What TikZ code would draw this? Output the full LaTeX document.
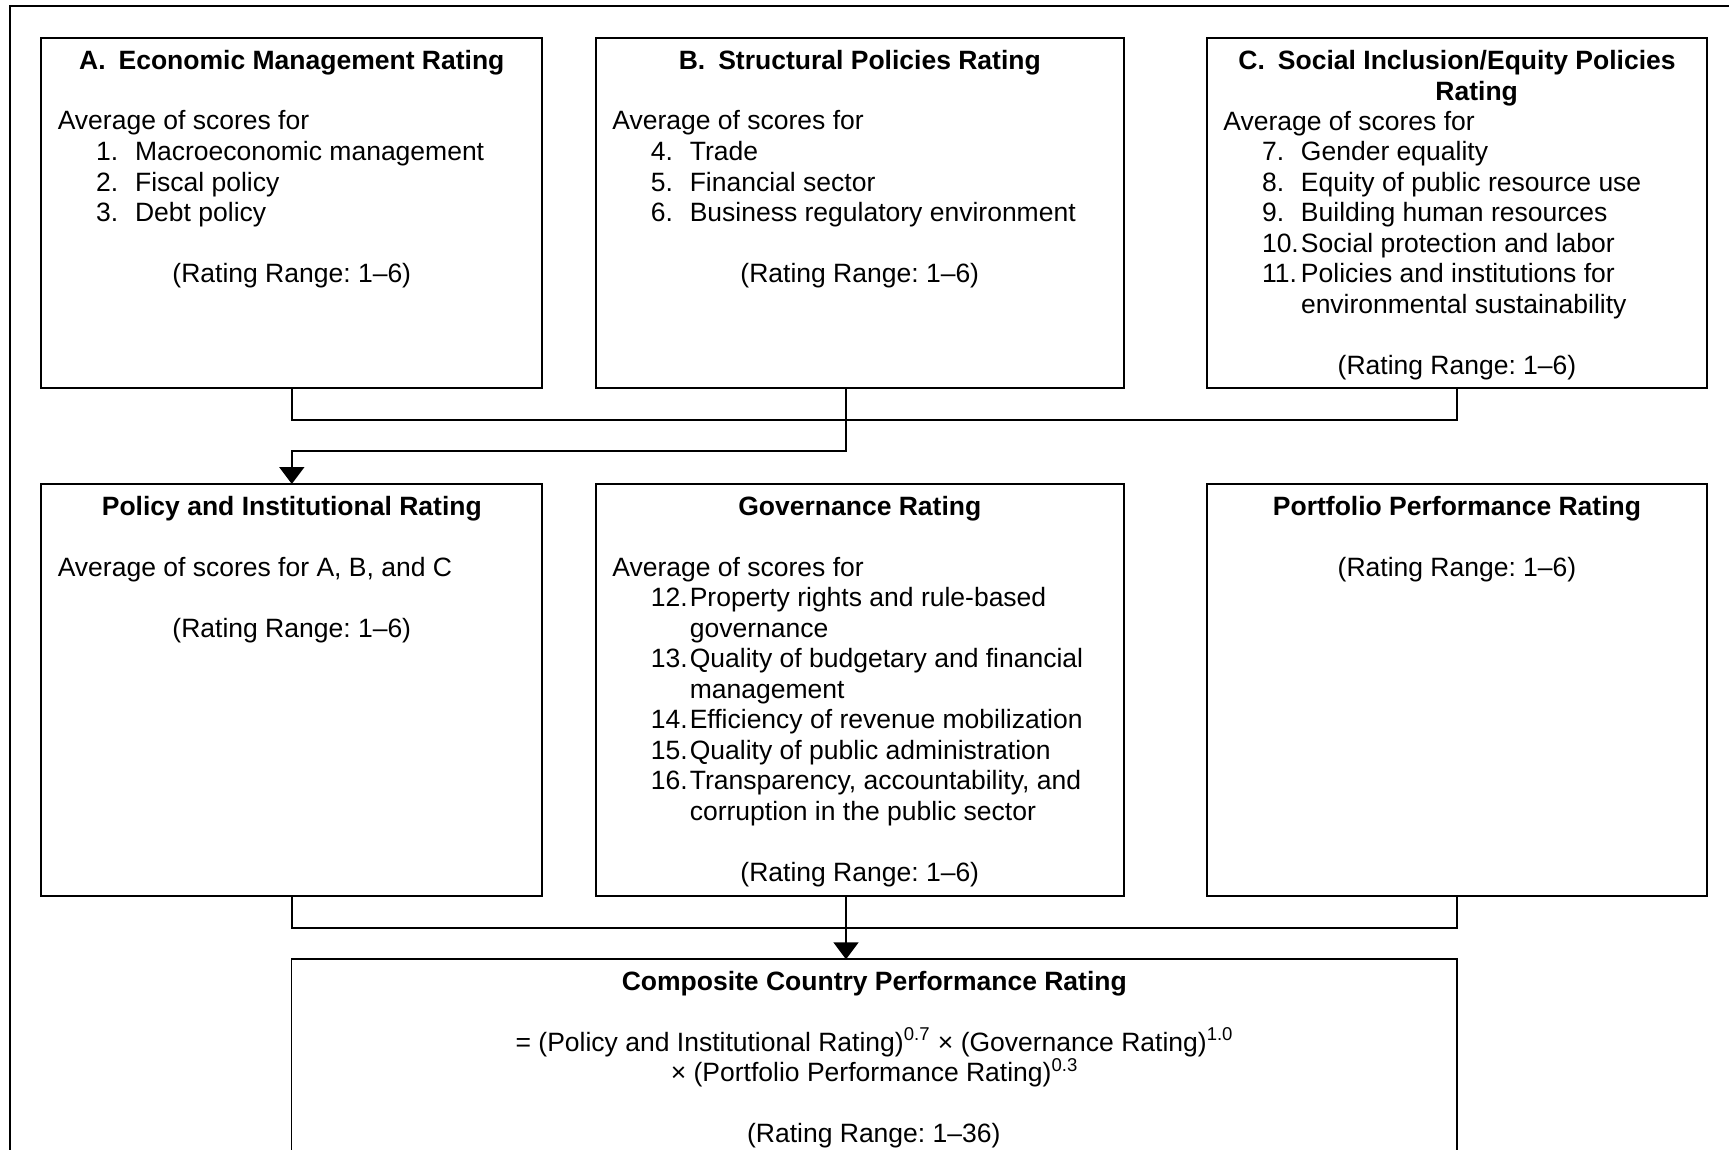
\documentclass[tikz,border=0pt]{standalone}
\usepackage{fontspec}
\setmainfont{Liberation Sans}
\usetikzlibrary{arrows.meta}
\frenchspacing
\newcommand\myfs{\fontsize{13.25pt}{15.25pt}\selectfont\frenchspacing}
\newcommand\itm[2]{\makebox[19.5pt][l]{#1}#2}
\begin{document}
\begin{tikzpicture}[x=0.5pt,y=-0.5pt,
  box/.style={draw, line width=0.9pt, inner sep=0pt, outer sep=0pt, rectangle},
  ln/.style={line width=0.9pt},
  arr/.style={ln, -{Triangle[length=8.5pt,width=12.5pt]}},
  tl/.style={inner sep=0pt, anchor=base west, font=\myfs},
  tc/.style={inner sep=0pt, anchor=base, font=\myfs},
  tb/.style={inner sep=0pt, anchor=base, font=\myfs\bfseries}]
\useasboundingbox (0,0) rectangle (1729,1150);
\clip (0,0) rectangle (1729,1150);
\fill[white] (0,0) rectangle (1729,1150);
% outer frame
\draw[ln] (9.7,6) rectangle (1800,1300);
% boxes
\node[box, minimum width=250.5pt, minimum height=175pt] (A) at (291.8,212.7) {};
\node[box, minimum width=263.8pt, minimum height=175pt] (B) at (859.8,212.7) {};
\node[box, minimum width=249.85pt, minimum height=175pt] (C) at (1457.05,212.7) {};
\node[box, minimum width=250.5pt, minimum height=206pt] (P) at (291.8,690) {};
\node[box, minimum width=263.8pt, minimum height=206pt] (G) at (859.8,690) {};
\node[box, minimum width=249.85pt, minimum height=206pt] (F) at (1457.05,690) {};
\node[box, minimum width=582.75pt, minimum height=150.35pt] (K) at (874.25,1109.65) {};
% connectors
\coordinate (xB) at (846,0);
\coordinate (j1) at (1457.05,420);
\draw[ln] (A.south) |- (j1) -- (C.south);
\coordinate (bB) at (B.south -| xB);
\coordinate (j3) at (846,451);
\draw[arr] (bB) -- (j3) -| (P.north);
\coordinate (j4) at (1457.05,927.7);
\draw[ln] (P.south) |- (j4) -- (F.south);
\coordinate (bG) at (G.south -| xB);
\coordinate (tK) at (K.north -| xB);
\draw[arr] (bG) -- (tK);
% Box A text
\node[tb] (a0) at (291.8,70) {A.\hspace{6.5pt}Economic Management Rating};
\node[tl] (a1) at (57.4,130) {Average of scores for};
\node[tl] (a2) at (95.7,161) {\itm{1.}{Macroeconomic management}};
\node[tl] (a3) at (95.7,191.5) {\itm{2.}{Fiscal policy}};
\node[tl] (a4) at (95.7,222) {\itm{3.}{Debt policy}};
\node[tc] (a5) at (291.8,283) {(Rating Range: 1–6)};
% Box B text
\node[tb] (b0) at (859.8,70) {B.\hspace{6.5pt}Structural Policies Rating};
\node[tl] (b1) at (612,130) {Average of scores for};
\node[tl] (b2) at (650.4,161) {\itm{4.}{Trade}};
\node[tl] (b3) at (650.4,191.5) {\itm{5.}{Financial sector}};
\node[tl] (b4) at (650.4,222) {\itm{6.}{Business regulatory environment}};
\node[tc] (b5) at (859.8,283) {(Rating Range: 1–6)};
% Box C text
\node[tb] (c0) at (1457,70) {C.\hspace{6.5pt}Social Inclusion/Equity Policies};
\node[tb] (c0b) at (1476.7,100.5) {Rating};
\node[tl] (c1) at (1223,130.5) {Average of scores for};
\node[tl] (c2) at (1261.6,161) {\itm{7.}{Gender equality}};
\node[tl] (c3) at (1261.6,191.5) {\itm{8.}{Equity of public resource use}};
\node[tl] (c4) at (1261.6,222) {\itm{9.}{Building human resources}};
\node[tl] (c5) at (1261.6,252.5) {\itm{10.}{Social protection and labor}};
\node[tl] (c6) at (1261.6,283) {\itm{11.}{Policies and institutions for}};
\node[tl] (c7) at (1300.6,313.5) {environmental sustainability};
\node[tc] (c8) at (1457,374.5) {(Rating Range: 1–6)};
% Policy box text
\node[tb] (p0) at (291.8,515) {Policy and Institutional Rating};
\node[tl] (p1) at (57.4,576) {Average of scores for A, B, and C};
\node[tc] (p2) at (291.8,637) {(Rating Range: 1–6)};
% Governance box text
\node[tb] (g0) at (859.8,515) {Governance Rating};
\node[tl] (g1) at (612,576) {Average of scores for};
\node[tl] (g2) at (650.4,606.5) {\itm{12.}{Property rights and rule-based}};
\node[tl] (g3) at (689.4,637) {governance};
\node[tl] (g4) at (650.4,667.5) {\itm{13.}{Quality of budgetary and financial}};
\node[tl] (g5) at (689.4,698) {management};
\node[tl] (g6) at (650.4,728.5) {\itm{14.}{Efficiency of revenue mobilization}};
\node[tl] (g7) at (650.4,759) {\itm{15.}{Quality of public administration}};
\node[tl] (g8) at (650.4,789.5) {\itm{16.}{Transparency, accountability, and}};
\node[tl] (g9) at (689.4,820) {corruption in the public sector};
\node[tc] (g10) at (859.8,881) {(Rating Range: 1–6)};
% Portfolio box text
\node[tb] (f0) at (1457,515) {Portfolio Performance Rating};
\node[tc] (f1) at (1457,576) {(Rating Range: 1–6)};
% Composite box text
\node[tb] (k0) at (874.3,990) {Composite Country Performance Rating};
\node[tc] (k1) at (874.6,1051) {= (Policy and Institutional Rating)\textsuperscript{0.7} × (Governance Rating)\textsuperscript{1.0}};
\node[tc] (k2) at (874.6,1081.5) {× (Portfolio Performance Rating)\textsuperscript{0.3}};
\node[tc] (k3) at (873.8,1142.5) {(Rating Range: 1–36)};
\end{tikzpicture}
\end{document}
